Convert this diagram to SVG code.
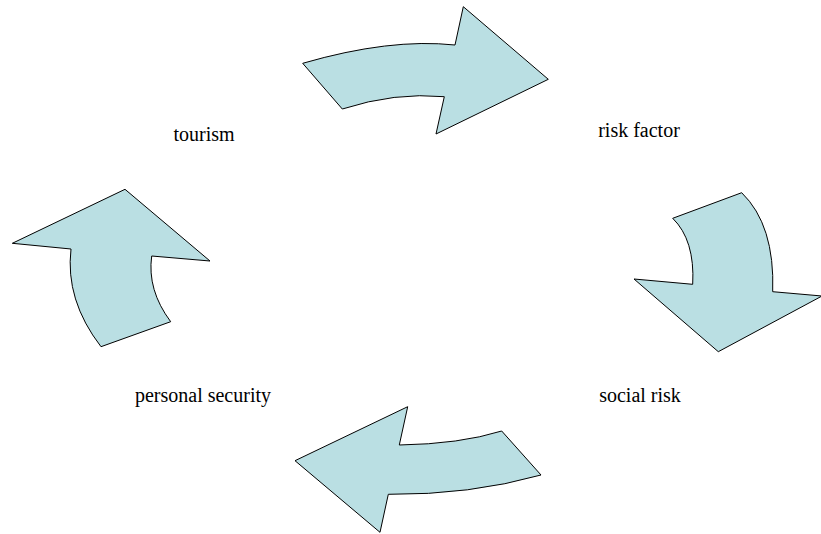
<svg xmlns="http://www.w3.org/2000/svg" width="821" height="534" viewBox="0 0 821 534">
<style>
.arrow{fill:#BADFE3;stroke:#000;stroke-width:1;stroke-linejoin:miter}
.lbl{font-family:"Liberation Serif","Times New Roman",serif;font-size:20px;fill:#000;text-anchor:middle}
</style>
<rect width="821" height="534" fill="#fff"/>
<g id="connectors">
<path id="arrow-top" class="arrow" d="M302.7,63.3 Q390,38 455,45 L463.3,6.7 L548.3,79.3 L436,134 L444.3,96.7 Q395,92 342.3,109 Z"/>
<path id="arrow-right" class="arrow" d="M672.7,218.3 L741.7,192.7 Q775,225 772.7,291.7 L822,296 L718.3,351.7 L634,279 L692.7,284.3 Q695,240 672.7,218.3 Z"/>
<path id="arrow-bottom" class="arrow" d="M501.7,431 L541,475 Q470,495 388.3,494.3 L380,532.3 L295,460.7 L407.7,406.7 L399.3,445 Q460,444 501.7,431 Z"/>
<path id="arrow-left" class="arrow" d="M101,346.7 L170.7,321.7 Q147,290 151.7,256 L210,261 L125,189.3 L12.3,243.3 L71,249 Q65,300 101,346.7 Z"/>
</g>
<g id="node-tourism"><text class="lbl" x="204" y="141">tourism</text></g>
<g id="node-risk-factor"><text class="lbl" x="639" y="137">risk factor</text></g>
<g id="node-social-risk"><text class="lbl" x="640" y="401.5">social risk</text></g>
<g id="node-personal-security"><text class="lbl" x="203" y="401.5">personal security</text></g>
</svg>
